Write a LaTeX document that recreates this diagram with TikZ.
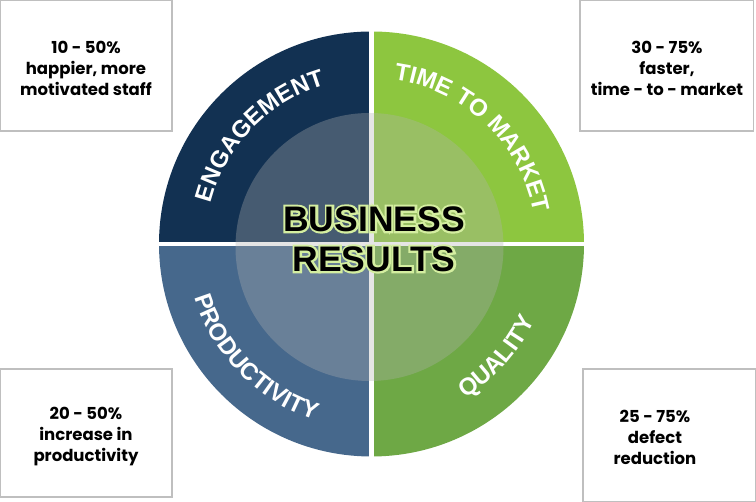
\documentclass[tikz,border=0pt]{standalone}
\usepackage{fontspec}
\setmainfont{Poppins}
\newfontfamily\arialfont{Liberation Sans}
\newfontfamily\glowfont{Liberation Sans Bold}[FakeBold=12]
\usetikzlibrary{decorations.text}
\definecolor{navy}{HTML}{123152}
\definecolor{steel}{HTML}{46688C}
\definecolor{lgreen}{HTML}{8DC63F}
\definecolor{mgreen}{HTML}{6EA845}
\definecolor{overlaygray}{RGB}{178,178,178}
\definecolor{glowc}{HTML}{D4EEA0}
\definecolor{boxline}{HTML}{BFBFBF}
\tikzset{
  boxframe/.style={draw=boxline,line width=1.2pt},
  boxtext/.style={align=center,inner sep=0pt,font=\bfseries\fontsize{16.5}{21}\selectfont,text=black},
  gapline/.style={white,line width=4.5pt},
  bigtext/.style={inner sep=0pt,font=\arialfont\bfseries\fontsize{35.5}{40}\selectfont},
  glowtext/.style={inner sep=0pt,font=\glowfont\fontsize{35.5}{40}\selectfont,text=glowc},
  arclabel/.style={decorate,decoration={text along path,text align=center,text color=white,
     text={|\arialfont\bfseries\fontsize{24}{27}\selectfont|#1}}}
}
\begin{document}
\begin{tikzpicture}[x=1pt,y=1pt]
\useasboundingbox (0,0) rectangle (756,502);
% boxes
\draw[boxframe] (0,502) rectangle (172,371);
\draw[boxframe] (580,502) rectangle (753.5,371);
\draw[boxframe] (0,133) rectangle (172,5);
\draw[boxframe] (583,133) rectangle (756,0);
\node[boxtext] (t1) at (86,434) {10 - 50\%\\happier, more\\motivated staff};
\node[boxtext] (t2) at (667,434) {30 - 75\%\\faster,\\time - to - market};
\node[boxtext] (t3) at (86,65) {20 - 50\%\\increase in\\productivity};
\node[boxtext] (t4) at (655,65) {25 - 75\%\\defect\\reduction};
% quadrants
\coordinate (C) at (371.5,258);
\fill[navy] (C) -- ++(90:212.5) arc[start angle=90,end angle=180,radius=212.5] -- cycle;
\fill[lgreen] (C) -- ++(0:212.5) arc[start angle=0,end angle=90,radius=212.5] -- cycle;
\fill[steel] (C) -- ++(180:212.5) arc[start angle=180,end angle=270,radius=212.5] -- cycle;
\fill[mgreen] (C) -- ++(270:212.5) arc[start angle=270,end angle=360,radius=212.5] -- cycle;
\coordinate (gL) at (156,258);
\coordinate (gR) at (587,258);
\coordinate (gT) at (371.5,473);
\coordinate (gB) at (371.5,43);
\draw[gapline] (gL) -- (gR);
\draw[gapline] (gT) -- (gB);
% inner overlay
\fill[overlaygray,opacity=0.33] (369.5,255) circle[radius=134];
% arc labels
\path[arclabel=ENGAGEMENT] (C) ++(181:165.5) arc[start angle=181,end angle=91,radius=165.5];
\path[arclabel=TIME TO MARKET] (C) ++(91.5:165.5) arc[start angle=91.5,end angle=1.5,radius=165.5];
\path[arclabel=PRODUCTIVITY] (C) ++(179.5:185) arc[start angle=179.5,end angle=269.5,radius=185];
\path[arclabel=QUALITY] (C) ++(273:180) arc[start angle=273,end angle=363,radius=180];
% center text with glow
\node[glowtext] (g1) at (374,283) {BUSINESS};
\node[glowtext] (g2) at (374,243) {RESULTS};
\node[bigtext,text=black] (b1) at (374,283) {BUSINESS};
\node[bigtext,text=black] (b2) at (374,243) {RESULTS};
\end{tikzpicture}
\end{document}
